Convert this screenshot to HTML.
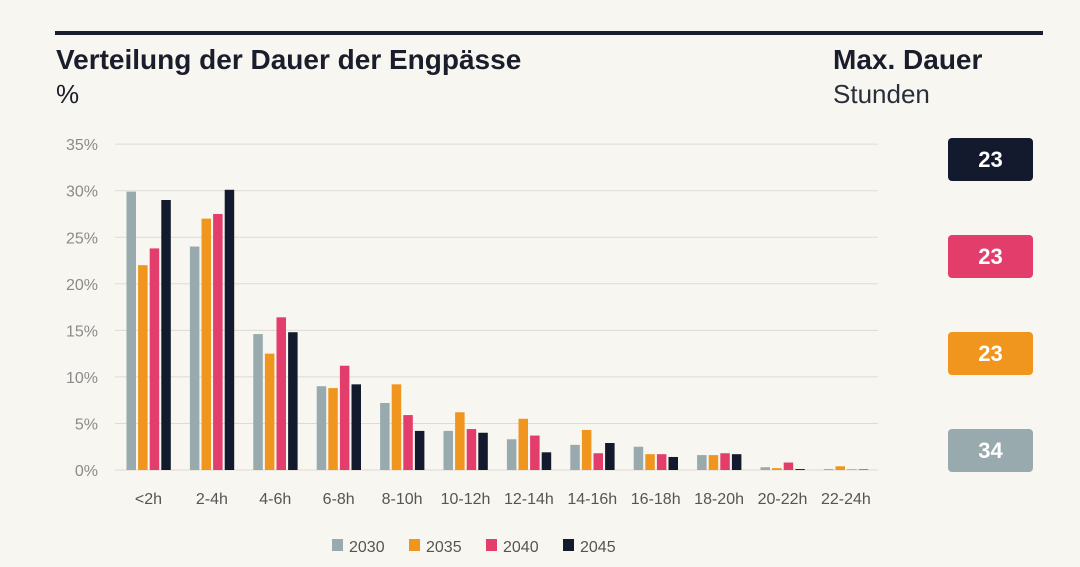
<!DOCTYPE html>
<html><head><meta charset="utf-8"><style>
body{margin:0;width:1080px;height:567px;background:#f8f6f0;font-family:"Liberation Sans",sans-serif;overflow:hidden;position:relative}
.t{position:absolute;color:#1a1d2b}
.box{position:absolute;left:948px;width:85px;height:43px;border-radius:4px;color:#fff;font:bold 22px "Liberation Sans",sans-serif;display:flex;align-items:center;justify-content:center}
</style></head><body>
<div style="position:absolute;left:55px;top:31px;width:988px;height:4px;background:#1a1d2b"></div>
<div class="t" style="left:56px;top:44px;font-size:28px;font-weight:bold">Verteilung der Dauer der Engpässe</div>
<div class="t" style="left:56px;top:79px;font-size:26px">%</div>
<div class="t" style="left:833px;top:44px;font-size:28px;font-weight:bold">Max. Dauer</div>
<div class="t" style="left:833px;top:79px;font-size:26px;color:#2a2d3b">Stunden</div>
<div class="box" style="top:138px;background:#141a2e">23</div>
<div class="box" style="top:235px;background:#e33d6c">23</div>
<div class="box" style="top:332px;background:#f0951e">23</div>
<div class="box" style="top:429px;background:#98aaae">34</div>
<svg id="chart" width="1080" height="567" style="position:absolute;left:0;top:0"></svg>
<script>
const categories=["<2h","2-4h","4-6h","6-8h","8-10h","10-12h","12-14h","14-16h","16-18h","18-20h","20-22h","22-24h"];
const years=["2030","2035","2040","2045"];
const s2030=[29.9,24.0,14.6,9.0,7.2,4.2,3.3,2.7,2.5,1.6,0.3,0.1];
const s2035=[22.0,27.0,12.5,8.8,9.2,6.2,5.5,4.3,1.7,1.6,0.2,0.4];
const s2040=[23.8,27.5,16.4,11.2,5.9,4.4,3.7,1.8,1.7,1.8,0.8,0.05];
const s2045=[29.0,30.1,14.8,9.2,4.2,4.0,1.9,2.9,1.4,1.7,0.1,0.05];
const yTicks=[0,5,10,15,20,25,30,35];
const series=[s2030,s2035,s2040,s2045];
const colors=["#98aaae","#f0951e","#e33d6c","#141a2e"];
const NS="http://www.w3.org/2000/svg";
const svg=document.getElementById('chart');
const y=v=>470-v*9.31;
const x=i=>148.5+i*63.4;
function mk(tag,attrs){const e=document.createElementNS(NS,tag);for(const k in attrs)e.setAttribute(k,attrs[k]);svg.appendChild(e);return e;}
yTicks.forEach(t=>{
  const l=mk('line',{x1:115,x2:878,y1:y(t),y2:y(t),stroke:'#dedbd2','stroke-width':1});
  
  
  const tx=mk('text',{x:98,y:y(t)+6,'text-anchor':'end','font-size':16,fill:'#8a8a8a','font-family':'Liberation Sans, sans-serif'});
  tx.textContent=t+'%';
  
  
});
categories.forEach((c,i)=>{
  series.forEach((s,j)=>{
    const v=s[i];
    const r=mk('rect',{x:x(i)-22+j*11.6,y:y(v),width:9.5,height:470-y(v),fill:colors[j]});
    
    
  });
  const tx=mk('text',{x:x(i),y:504,'text-anchor':'middle','font-size':16,fill:'#555','font-family':'Liberation Sans, sans-serif'});
  tx.textContent=c;
  
  
});
years.forEach((yr,j)=>{
  const lx=332+j*77;
  const r=mk('rect',{x:lx,y:539,width:11,height:12,fill:colors[j]});
  
  
  const t=mk('text',{x:lx+17,y:552,'font-size':16,fill:'#555','font-family':'Liberation Sans, sans-serif'});
  t.textContent=yr;
  
  
});
</script>
</body></html>
